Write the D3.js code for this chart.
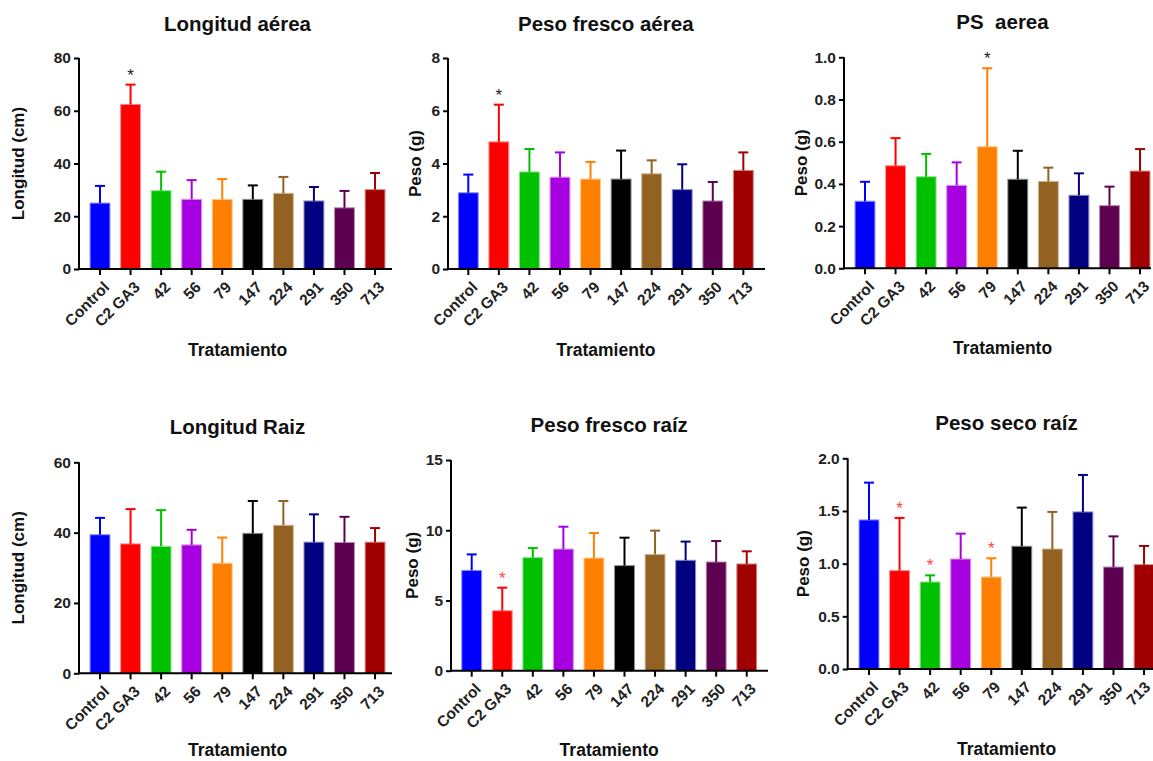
<!DOCTYPE html>
<html>
<head>
<meta charset="utf-8">
<script src="https://cdn.jsdelivr.net/npm/d3@7"></script>
<style>
  body { margin: 0; background: #fff; }
  svg { font-family: "Liberation Sans", Arial, sans-serif; font-weight: bold; }
</style>
</head>
<body>
<svg id="chart" width="1153" height="761"></svg>
<script>
// categories and colours
var tratamientos = ["Control", "C2 GA3", "42", "56", "79", "147", "224", "291", "350", "713"];
var colores = ["#0000ff", "#ff0000", "#00c000", "#a600e0", "#ff8000", "#000000", "#936122", "#000080", "#5e0050", "#a00000"];

// Longitud aérea
var longAereaMean = [25.0, 62.4, 29.7, 26.4, 26.4, 26.4, 28.7, 25.8, 23.2, 30.1];
var longAereaErr  = [6.5, 7.5, 7.2, 7.3, 7.7, 5.3, 6.2, 5.3, 6.4, 6.3];
var longAereaStar = [1];

// Peso fresco aérea
var pfAereaMean = [2.89, 4.82, 3.68, 3.48, 3.41, 3.41, 3.61, 3.01, 2.58, 3.74];
var pfAereaErr  = [0.69, 1.41, 0.87, 0.94, 0.65, 1.08, 0.51, 0.96, 0.72, 0.68];
var pfAereaStar = [1];

// PS aerea
var psAereaMean = [0.318, 0.486, 0.434, 0.393, 0.576, 0.422, 0.412, 0.346, 0.297, 0.461];
var psAereaErr  = [0.092, 0.131, 0.108, 0.109, 0.372, 0.135, 0.065, 0.104, 0.090, 0.104];
var psAereaStar = [4];

// Longitud Raiz
var longRaizMean = [39.4, 36.8, 36.1, 36.5, 31.3, 39.8, 42.1, 37.3, 37.2, 37.3];
var longRaizErr  = [4.8, 9.9, 10.3, 4.3, 7.3, 9.2, 6.9, 7.9, 7.3, 4.0];
var longRaizStar = [];

// Peso fresco raíz
var pfRaizMean = [7.14, 4.27, 8.05, 8.66, 8.02, 7.48, 8.28, 7.86, 7.74, 7.60];
var pfRaizErr  = [1.14, 1.64, 0.68, 1.59, 1.78, 1.99, 1.69, 1.33, 1.49, 0.90];
var pfRaizStar = [1];

// Peso seco raíz
var psRaizMean = [1.415, 0.934, 0.826, 1.044, 0.873, 1.165, 1.139, 1.491, 0.968, 0.991];
var psRaizErr  = [0.354, 0.500, 0.063, 0.241, 0.178, 0.367, 0.352, 0.351, 0.291, 0.177];
var psRaizStar = [1, 2, 4];

// panels: layout in pixels
var panels = [
  {title: "Longitud aérea", ylab: "Longitud (cm)", mean: longAereaMean, err: longAereaErr, star: longAereaStar, starColor: "#222",
   max: 80, ticks: [0, 20, 40, 60, 80], fmt: d3.format("d"), ax: 79, y0: 269, y1: 58, first: 100, axEnd: 392, ylabX: 24, xlabY: 356, titleY: 31},
  {title: "Peso fresco aérea", ylab: "Peso (g)", mean: pfAereaMean, err: pfAereaErr, star: pfAereaStar, starColor: "#222",
   max: 8, ticks: [0, 2, 4, 6, 8], fmt: d3.format("d"), ax: 448, y0: 269, y1: 58, first: 468.3, axEnd: 765, ylabX: 421, xlabY: 356, titleY: 31},
  {title: "PS  aerea", ylab: "Peso (g)", mean: psAereaMean, err: psAereaErr, star: psAereaStar, starColor: "#222",
   max: 1, ticks: [0, 0.2, 0.4, 0.6, 0.8, 1.0], fmt: d3.format(".1f"), ax: 844, y0: 268.3, y1: 57.3, first: 865, axEnd: 1151, ylabX: 807, xlabY: 354, titleY: 29},
  {title: "Longitud Raiz", ylab: "Longitud (cm)", mean: longRaizMean, err: longRaizErr, star: longRaizStar, starColor: "#ff4444",
   max: 60, ticks: [0, 20, 40, 60], fmt: d3.format("d"), ax: 79, y0: 673.3, y1: 462.3, first: 100, axEnd: 392, ylabX: 24, xlabY: 756, titleY: 434},
  {title: "Peso fresco raíz", ylab: "Peso (g)", mean: pfRaizMean, err: pfRaizErr, star: pfRaizStar, starColor: "#ff4444",
   max: 15, ticks: [0, 5, 10, 15], fmt: d3.format("d"), ax: 451, y0: 670.7, y1: 460, first: 471.7, axEnd: 768, ylabX: 418, xlabY: 756, titleY: 432},
  {title: "Peso seco raíz", ylab: "Peso (g)", mean: psRaizMean, err: psRaizErr, star: psRaizStar, starColor: "#ff4444",
   max: 2, ticks: [0, 0.5, 1.0, 1.5, 2.0], fmt: d3.format(".1f"), ax: 847.7, y0: 669, y1: 458.3, first: 869, axEnd: 1153, ylabX: 809, xlabY: 755, titleY: 430}
];

var svg = d3.select("#chart");
var step = 30.56;

panels.forEach(function(p) {
  var g = svg.append("g");

  var x = d3.scaleBand()
    .domain(tratamientos)
    .range([p.first - step / 2, p.first - step / 2 + step * tratamientos.length])
    .paddingInner(0.35)
    .paddingOuter(0.175);

  var y = d3.scaleLinear()
    .domain([0, p.max])
    .range([p.y0, p.y1]);

  var rows = tratamientos.map(function(t, i) {
    return {name: t, mean: p.mean[i], err: p.err[i], color: colores[i], star: p.star.indexOf(i) >= 0};
  });

  // bars
  g.selectAll("rect.bar")
    .data(rows)
    .enter()
    .append("rect")
    .attr("class", "bar")
    .attr("x", function(d) { return x(d.name); })
    .attr("width", x.bandwidth())
    .attr("y", function(d) { return y(d.mean); })
    .attr("height", function(d) { return y(0) - y(d.mean); })
    .attr("fill", function(d) { return d.color; })
    .attr("stroke", function(d) { return d3.interpolateRgb(d.color, "#ffffff")(0.55); })
    .attr("stroke-width", 1);

  // error bars (upper only)
  var eb = g.selectAll("g.err")
    .data(rows)
    .enter()
    .append("g")
    .attr("class", "err")
    .attr("stroke", function(d) { return d.color; })
    .attr("stroke-width", 2);

  eb.append("line")
    .attr("x1", function(d) { return x(d.name) + x.bandwidth() / 2; })
    .attr("x2", function(d) { return x(d.name) + x.bandwidth() / 2; })
    .attr("y1", function(d) { return y(d.mean); })
    .attr("y2", function(d) { return y(d.mean + d.err); });

  eb.append("line")
    .attr("x1", function(d) { return x(d.name) + x.bandwidth() / 2 - 5; })
    .attr("x2", function(d) { return x(d.name) + x.bandwidth() / 2 + 5; })
    .attr("y1", function(d) { return y(d.mean + d.err); })
    .attr("y2", function(d) { return y(d.mean + d.err); });

  // significance stars
  g.selectAll("text.star")
    .data(rows.filter(function(d) { return d.star; }))
    .enter()
    .append("text")
    .attr("class", "star")
    .attr("x", function(d) { return x(d.name) + x.bandwidth() / 2; })
    .attr("y", function(d) { return y(d.mean + d.err) - 4; })
    .attr("text-anchor", "middle")
    .attr("font-size", 17)
    .attr("font-weight", "normal")
    .attr("fill", p.starColor)
    .text("*");

  // y axis
  var yAxis = g.append("g")
    .attr("transform", "translate(" + p.ax + ",0)")
    .call(d3.axisLeft(y).tickValues(p.ticks).tickFormat(p.fmt).tickSize(5).tickPadding(3));
  yAxis.select(".domain").attr("stroke-width", 2).attr("d", "M0," + (p.y0 + 1) + "V" + p.y1);
  yAxis.selectAll(".tick line").attr("stroke-width", 2);
  yAxis.selectAll("text").attr("font-size", 15.5).attr("font-family", "Liberation Sans").attr("font-weight", "bold").attr("fill", "#222");

  // x axis
  var xAxis = g.append("g")
    .attr("transform", "translate(0," + p.y0 + ")")
    .call(d3.axisBottom(x).tickSize(6).tickSizeOuter(0));
  xAxis.select(".domain").attr("stroke-width", 2).attr("d", "M" + (p.ax - 1) + ",0H" + p.axEnd);
  xAxis.selectAll(".tick line").attr("stroke-width", 2);
  xAxis.selectAll("text")
    .attr("font-size", 15.5)
    .attr("font-family", "Liberation Sans")
    .attr("font-weight", "bold")
    .attr("fill", "#222")
    .attr("text-anchor", "end")
    .attr("dy", "0.35em")
    .attr("transform", function(d) {
      // keep the last label inside the right edge of the page
      var dx = x(d) + x.bandwidth() / 2 > 1141 ? -3 : 0;
      return "translate(" + dx + ",9) rotate(-45)";
    });

  var mid = p.first + step * (tratamientos.length - 1) / 2;

  // title
  g.append("text")
    .attr("x", mid)
    .attr("y", p.titleY)
    .attr("text-anchor", "middle")
    .attr("font-size", 20.5)
    .attr("fill", "#111")
    .style("white-space", "pre")
    .text(p.title);

  // x label
  g.append("text")
    .attr("x", mid)
    .attr("y", p.xlabY)
    .attr("text-anchor", "middle")
    .attr("font-size", 17.5)
    .attr("fill", "#111")
    .text("Tratamiento");

  // y label
  g.append("text")
    .attr("transform", "translate(" + p.ylabX + "," + ((p.y0 + p.y1) / 2) + ") rotate(-90)")
    .attr("text-anchor", "middle")
    .attr("font-size", 17)
    .attr("fill", "#111")
    .text(p.ylab);
});
</script>
</body>
</html>
